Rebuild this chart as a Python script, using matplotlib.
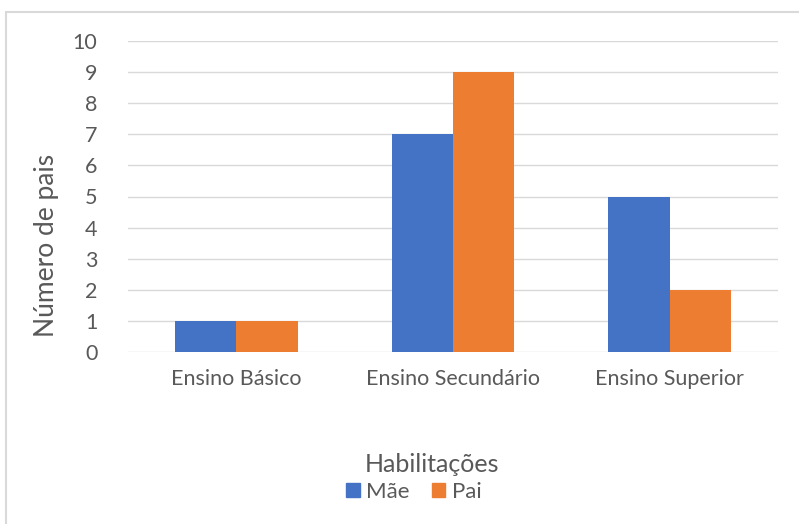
import matplotlib
matplotlib.use("Agg")
import matplotlib.pyplot as plt
from matplotlib.patches import Rectangle, Patch
import numpy as np

categories = ["Ensino Básico", "Ensino Secundário", "Ensino Superior"]
mae = [1, 7, 5]
pai = [1, 9, 2]
series_names = ["Mãe", "Pai"]
colors = ["#4472C4", "#ED7D31"]
yticks = list(range(0, 11))

plt.rcParams['font.family'] = ['Lato', 'DejaVu Sans']

W, H = 799, 524
fig = plt.figure(figsize=(W/100, H/100), dpi=100)
fig.patches.append(Rectangle((6/W, -0.1), 1.2, (H-12)/H + 0.1, transform=fig.transFigure,
                             fill=False, edgecolor="#d9d9d9", linewidth=1.5))

ax = fig.add_axes([128/W, 172/H, 650/W, 311/H])
x = np.arange(len(categories))
bw = 0.283
ax.bar(x - bw/2, mae, bw, color=colors[0], zorder=3)
ax.bar(x + bw/2, pai, bw, color=colors[1], zorder=3)
ax.set_xlim(-0.5, len(categories) - 0.5)
ax.set_ylim(0, 10)
ax.set_yticks(yticks)
ax.set_yticklabels([str(t) for t in yticks])
ax.set_xticks(x)
ax.set_xticklabels(categories)
ax.grid(axis='y', color="#d9d9d9", linewidth=1, zorder=0)
for s in ax.spines.values():
    s.set_visible(False)
ax.tick_params(axis='both', length=0, colors="#595959", labelsize=15.5)
ax.tick_params(axis='x', pad=12)
ax.tick_params(axis='y', pad=22)

fig.text(47/W, 1 - 245/H, "Número de pais", rotation=90, ha='center', va='center',
         fontsize=19, color="#595959")

fig.text(432/W, 1 - 465/H, "Habilitações", ha='center', va='center',
         fontsize=18, color="#595959")

handles = [Patch(color=colors[0]), Patch(color=colors[1])]
leg = fig.legend(handles, series_names, loc='center', bbox_to_anchor=(414/W, 1 - 492/H),
                 ncol=2, frameon=False, fontsize=16, handlelength=0.6, handleheight=0.6,
                 columnspacing=1.0, handletextpad=0.3, borderpad=0, borderaxespad=0)
for t in leg.get_texts():
    t.set_color("#595959")

fig.savefig("out.png", dpi=100)
